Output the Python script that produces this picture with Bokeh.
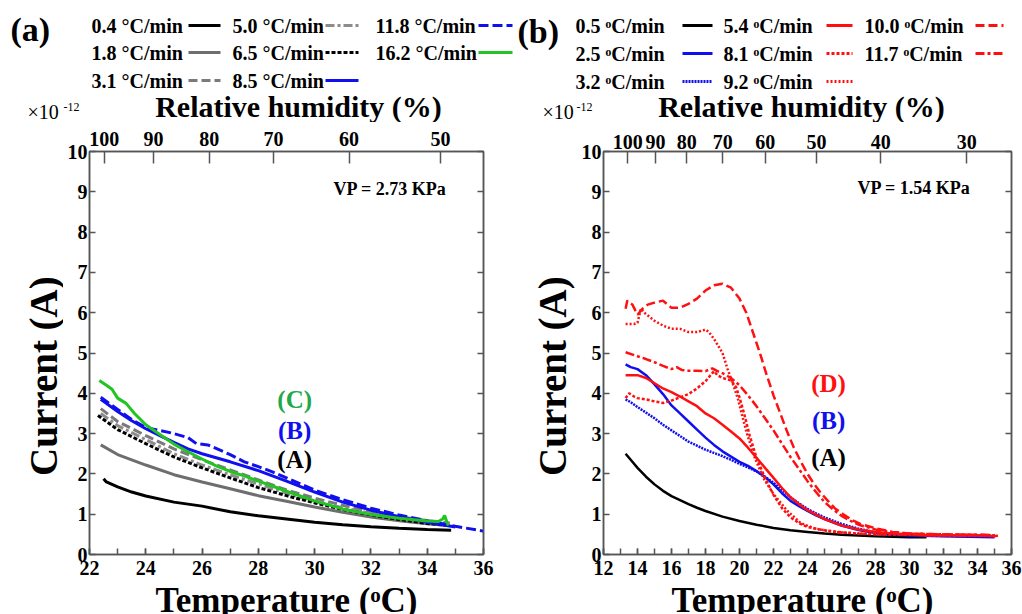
import math
from bokeh.plotting import figure
from bokeh.layouts import column, row
from bokeh.models import Range1d, LinearAxis, FixedTicker, SingleIntervalTicker
from bokeh.core.properties import value
from bokeh.embed import file_html
from bokeh.resources import INLINE

FONT = "Liberation Serif"

# ---------------- panel (a) data ----------------
a_rates = ["0.4", "1.8", "3.1", "5.0", "6.5", "8.5", "11.8", "16.2"]
a_colors = ["#000000", "#6e6e6e", "#7a7a7a", "#8c8c8c", "#000000", "#1010ee", "#1010ee", "#22c422"]
a_dashes = ["solid", "solid", "9 4", "9 3 3 3", "4 2", "solid", "10 4", "solid"]

a04_x = [22.5, 22.6, 23.0, 23.5, 24, 25, 26, 27, 28, 29, 30, 31, 32, 33, 34, 34.85]
a04_y = [1.88, 1.80, 1.68, 1.55, 1.45, 1.30, 1.20, 1.06, 0.96, 0.88, 0.80, 0.74, 0.69, 0.65, 0.62, 0.60]
a18_x = [22.4, 23, 24, 25, 26, 27, 28, 29, 30, 31, 32, 33, 34, 34.8]
a18_y = [2.72, 2.48, 2.22, 1.98, 1.80, 1.63, 1.46, 1.32, 1.18, 1.05, 0.93, 0.84, 0.76, 0.72]
a31_x = [22.4, 23, 24, 25, 26, 27, 28, 29, 30, 31, 32, 33, 34, 34.8]
a31_y = [3.62, 3.30, 2.95, 2.62, 2.35, 2.10, 1.85, 1.60, 1.40, 1.22, 1.06, 0.94, 0.84, 0.78]
a50_x = [22.4, 23, 24, 25, 26, 27, 28, 29, 30, 31, 32, 33, 34, 34.8]
a50_y = [3.50, 3.20, 2.85, 2.50, 2.22, 1.98, 1.75, 1.52, 1.32, 1.16, 1.02, 0.90, 0.80, 0.75]
a65_x = [22.3, 23, 24, 25, 26, 27, 28, 29, 30, 31, 32, 33, 34, 34.8]
a65_y = [3.45, 3.10, 2.75, 2.42, 2.15, 1.90, 1.66, 1.46, 1.28, 1.12, 0.98, 0.87, 0.77, 0.72]
a85_x = [22.4, 23, 23.5, 24, 24.5, 25, 25.5, 26, 26.5, 27, 28, 29, 30, 31, 32, 33, 34, 35]
a85_y = [3.85, 3.55, 3.32, 3.12, 2.95, 2.78, 2.62, 2.50, 2.40, 2.30, 2.08, 1.82, 1.55, 1.30, 1.10, 0.94, 0.80, 0.68]
a118_x = [22.4, 23, 23.5, 24, 24.5, 25, 25.5, 25.8, 26.2, 26.6, 27, 27.5, 28, 28.5, 29, 29.5, 30, 31, 32, 33, 34, 35, 36]
a118_y = [3.90, 3.60, 3.35, 3.15, 3.08, 3.00, 2.90, 2.75, 2.72, 2.60, 2.48, 2.30, 2.18, 2.05, 1.90, 1.75, 1.60, 1.36, 1.15, 0.98, 0.84, 0.70, 0.58]
a162_x = [22.35, 22.6, 22.8, 23, 23.3, 23.6, 24, 24.5, 25, 25.5, 26, 26.5, 27, 27.5, 28, 28.5, 29, 30, 31, 32, 33, 34, 34.4, 34.55, 34.62, 34.7, 34.75]
a162_y = [4.32, 4.20, 4.10, 3.88, 3.75, 3.50, 3.22, 2.98, 2.74, 2.55, 2.37, 2.20, 2.06, 1.95, 1.82, 1.70, 1.57, 1.33, 1.13, 0.99, 0.90, 0.83, 0.82, 0.88, 0.97, 0.80, 0.72]
a_series = [(a04_x, a04_y), (a18_x, a18_y), (a31_x, a31_y), (a50_x, a50_y),
            (a65_x, a65_y), (a85_x, a85_y), (a118_x, a118_y), (a162_x, a162_y)]
a_vp = 2.73
a_rh = [100, 90, 80, 70, 60, 50]

# ---------------- panel (b) data ----------------
b_rates = ["0.5", "2.5", "3.2", "5.4", "8.1", "9.2", "10.0", "11.7"]
b_colors = ["#000000", "#1010ee", "#1010ee", "#ff1010", "#ff1010", "#ff1010", "#ff1010", "#ff1010"]
b_dashes = ["solid", "solid", "2 1", "solid", "3 2", "2 2", "9 4", "9 3 3 3"]

b05_x = [13.3, 13.6, 14, 14.5, 15, 15.5, 16, 16.5, 17, 17.5, 18, 19, 20, 21, 22, 23, 24, 25, 26, 27, 28, 29, 30, 31]
b05_y = [2.50, 2.35, 2.15, 1.93, 1.74, 1.58, 1.45, 1.35, 1.25, 1.16, 1.08, 0.94, 0.83, 0.74, 0.66, 0.60, 0.56, 0.52, 0.49, 0.47, 0.45, 0.44, 0.43, 0.43]
b25_x = [13.3, 13.6, 14, 14.5, 15, 15.5, 16, 16.5, 17, 17.5, 18, 18.5, 19, 19.5, 20, 20.5, 21, 21.5, 22, 22.5, 23, 23.5, 24, 24.5, 25, 26, 27, 28, 29, 30, 32, 35]
b25_y = [4.72, 4.65, 4.60, 4.45, 4.22, 3.98, 3.70, 3.50, 3.30, 3.10, 2.90, 2.72, 2.56, 2.43, 2.30, 2.20, 2.07, 1.92, 1.74, 1.52, 1.33, 1.20, 1.08, 0.97, 0.88, 0.72, 0.61, 0.53, 0.49, 0.47, 0.45, 0.43]
b32_x = [13.3, 13.6, 14, 14.5, 15, 15.5, 16, 16.5, 17, 17.5, 18, 18.5, 19, 19.5, 20, 20.5, 21, 21.5, 22, 22.5, 23, 23.5, 24, 24.5, 25, 26, 27, 28, 29, 30, 32, 35]
b32_y = [3.85, 3.78, 3.66, 3.52, 3.38, 3.22, 3.08, 2.94, 2.80, 2.70, 2.60, 2.52, 2.44, 2.35, 2.25, 2.16, 2.06, 1.93, 1.78, 1.60, 1.42, 1.27, 1.13, 1.02, 0.92, 0.76, 0.64, 0.55, 0.50, 0.48, 0.46, 0.44]
b54_x = [13.3, 14, 14.5, 15, 15.5, 16, 16.5, 17, 17.5, 18, 18.5, 19, 19.5, 20, 20.5, 21, 21.5, 22, 22.5, 23, 23.5, 24, 25, 26, 27, 28, 29, 30, 31, 32, 33, 34, 34.5, 35, 35.2]
b54_y = [4.45, 4.45, 4.38, 4.25, 4.12, 4.03, 3.92, 3.80, 3.68, 3.50, 3.38, 3.22, 3.05, 2.88, 2.65, 2.40, 2.15, 1.90, 1.65, 1.42, 1.25, 1.10, 0.88, 0.72, 0.62, 0.56, 0.52, 0.50, 0.48, 0.48, 0.47, 0.48, 0.47, 0.45, 0.47]
b81_x = [13.3, 13.5, 13.8, 14, 14.5, 15, 15.5, 16, 16.5, 17, 17.5, 18, 18.3, 18.5, 18.7, 19, 19.5, 19.8, 20, 20.3, 20.6, 21, 21.5, 22, 22.5, 23, 23.5, 24, 25, 26, 27, 28, 30, 32, 35]
b81_y = [3.88, 4.00, 3.92, 3.88, 3.85, 3.80, 3.76, 3.82, 3.90, 3.98, 4.12, 4.30, 4.45, 4.55, 4.45, 4.38, 4.32, 4.15, 3.90, 3.45, 2.95, 2.40, 1.90, 1.48, 1.15, 0.92, 0.78, 0.68, 0.60, 0.55, 0.52, 0.50, 0.49, 0.47, 0.46]
b92_x = [13.3, 13.8, 14.0, 14.2, 14.4, 14.7, 15, 15.5, 16, 16.5, 17, 17.5, 18, 18.2, 18.5, 19, 19.3, 19.6, 19.9, 20.4, 20.9, 21.4, 22, 22.8, 23.6, 24.4, 25.5, 27, 29, 31, 33, 35]
b92_y = [5.72, 5.72, 5.75, 6.10, 6.00, 5.90, 5.80, 5.68, 5.60, 5.60, 5.52, 5.52, 5.58, 5.52, 5.35, 5.00, 4.60, 4.25, 3.87, 3.05, 2.40, 1.90, 1.50, 1.09, 0.78, 0.65, 0.56, 0.52, 0.50, 0.48, 0.48, 0.47]
b100_x = [13.3, 13.4, 13.7, 14, 14.3, 14.6, 15, 15.5, 16, 16.5, 17, 17.5, 18, 18.5, 19, 19.5, 20, 20.4, 20.8, 21.2, 21.6, 22, 22.4, 22.8, 23.2, 23.6, 24, 24.4, 24.8, 25.2, 25.6, 26.1, 26.6, 27.1, 28.1, 29, 30, 32, 34, 35]
b100_y = [6.10, 6.30, 6.20, 5.95, 6.10, 6.20, 6.25, 6.30, 6.12, 6.12, 6.22, 6.35, 6.55, 6.68, 6.72, 6.62, 6.35, 6.00, 5.50, 5.00, 4.45, 3.95, 3.50, 3.05, 2.65, 2.31, 2.00, 1.74, 1.52, 1.33, 1.15, 1.00, 0.86, 0.76, 0.64, 0.56, 0.52, 0.50, 0.49, 0.48]
b117_x = [13.3, 14, 14.5, 15, 15.5, 16, 16.3, 16.6, 17, 17.5, 18, 18.4, 18.7, 19, 19.5, 20, 20.5, 21, 21.5, 22, 22.5, 23, 23.5, 24, 24.5, 25, 25.5, 26, 26.5, 27, 28, 29, 30, 32, 34, 35.2]
b117_y = [5.02, 4.92, 4.85, 4.77, 4.68, 4.60, 4.65, 4.58, 4.56, 4.56, 4.55, 4.62, 4.55, 4.50, 4.38, 4.20, 3.95, 3.68, 3.38, 3.08, 2.75, 2.42, 2.12, 1.82, 1.55, 1.30, 1.12, 0.96, 0.84, 0.74, 0.62, 0.55, 0.52, 0.50, 0.49, 0.47]
b_series = [(b05_x, b05_y), (b25_x, b25_y), (b32_x, b32_y), (b54_x, b54_y),
            (b81_x, b81_y), (b92_x, b92_y), (b100_x, b100_y), (b117_x, b117_y)]
b_vp = 1.54
b_rh = [100, 90, 80, 70, 60, 50, 40, 30]

TOP_H = 122      # strip above the panels (legends, titles)
MID_H = 463      # panels
BOT_H = 29       # strip below the panels (x titles, cut at the window edge)


def rh_to_temp(vp, rh):
    # temperature at which the saturation vapour pressure equals vp/(rh/100) (Magnus)
    es = vp / (rh / 100.0)
    g = math.log(es / 0.6108)
    return 237.3 * g / (17.27 - g)


def style_axis(ax):
    ax.axis_line_color = "#555555"
    ax.axis_line_width = 1.5
    ax.major_tick_line_color = "#555555"
    ax.major_tick_line_width = 1.5
    ax.minor_tick_line_color = "#555555"
    ax.minor_tick_line_width = 1.5
    ax.major_tick_in = 6
    ax.major_tick_out = 0
    ax.minor_tick_in = 0
    ax.minor_tick_out = 0
    ax.major_label_text_font = FONT
    ax.major_label_text_font_style = "bold"
    ax.major_label_text_font_size = "20px"
    ax.major_label_text_color = "black"


def blank(width, height):
    f = figure(width=width, height=height, x_range=Range1d(0, width), y_range=Range1d(height, 0),
               output_backend="svg", toolbar_location=None, min_border=0,
               x_axis_location=None, y_axis_location=None)
    f.xgrid.visible = False
    f.ygrid.visible = False
    f.outline_line_color = None
    return f


def txt(f, x, y, s, size, bold=True, align="left", color="black", angle=0.0):
    f.text(x=[x], y=[y], text=[s], text_font=value(FONT), text_font_style="bold" if bold else "normal",
           text_font_size=size, text_align=align, text_baseline="middle", text_color=color, angle=angle)


def panel(xmin, xmax, width, bl, bt, br, bb, series, colors, dashes, vp, rhs, lw, top_standoff):
    p = figure(width=width, height=MID_H, x_range=Range1d(xmin, xmax), y_range=Range1d(0, 10),
               output_backend="svg", toolbar_location=None,
               min_border_left=bl, min_border_top=bt, min_border_right=br, min_border_bottom=bb)
    p.xgrid.visible = False
    p.ygrid.visible = False
    p.outline_line_color = "#555555"
    p.outline_line_width = 1.5

    xa = p.xaxis[0]
    xa.ticker = SingleIntervalTicker(interval=2, num_minor_ticks=2)
    style_axis(xa)
    xa.minor_tick_in = 6
    xa.major_label_standoff = 6
    ya = p.yaxis[0]
    ya.ticker = SingleIntervalTicker(interval=1, num_minor_ticks=0)
    style_axis(ya)
    ya.major_label_standoff = 2

    ra = LinearAxis(ticker=SingleIntervalTicker(interval=1, num_minor_ticks=0),
                    major_label_overrides={i: "" for i in range(11)})
    style_axis(ra)
    ra.major_label_standoff = 0
    p.add_layout(ra, "right")

    tpos = [rh_to_temp(vp, r) for r in rhs]
    ta = LinearAxis(ticker=FixedTicker(ticks=tpos),
                    major_label_overrides={t: str(r) for t, r in zip(tpos, rhs)})
    style_axis(ta)
    ta.major_tick_in = 12
    ta.major_label_standoff = top_standoff
    p.add_layout(ta, "above")

    for (xs, ys), c, d in zip(series, colors, dashes):
        p.line(xs, ys, line_color=c, line_width=lw, line_dash=d)
    return p


# ---------------- panels ----------------
pa = panel(22, 36, 432, 26, 29, 12, 30, a_series, a_colors, a_dashes, a_vp, a_rh, 3, 6)
pa.text(x=[30.67], y=[9.06], text=["VP = %.2f KPa" % a_vp], text_font=value(FONT),
        text_font_style="bold", text_font_size="18px", text_baseline="middle", text_align="left")
pa.text(x=[29.29, 29.29, 29.29], y=[3.84, 3.07, 2.35], text=["(C)", "(B)", "(A)"],
        text_color=["#22a84a", "#1010ee", "#000000"], text_font=value(FONT),
        text_font_style="bold", text_font_size="25px", text_baseline="middle", text_align="center")

pb = panel(12, 36, 445, 26, 25, 11, 31, b_series, b_colors, b_dashes, b_vp, b_rh, 2.5, 3)
pb.text(x=[26.94], y=[9.09], text=["VP = %.2f KPa" % b_vp], text_font=value(FONT),
        text_font_style="bold", text_font_size="18px", text_baseline="middle", text_align="left")
pb.text(x=[25.24, 25.24, 25.24], y=[4.25, 3.32, 2.41], text=["(D)", "(B)", "(A)"],
        text_color=["#ff1010", "#1010ee", "#000000"], text_font=value(FONT),
        text_font_style="bold", text_font_size="25px", text_baseline="middle", text_align="center")

# ---------------- y titles (strips left of each panel) ----------------
la = blank(63, MID_H)
txt(la, 43, 258, "Current (A)", "39px", align="center", angle=math.pi / 2)
lb = blank(82, MID_H)
txt(lb, 57, 258, "Current (A)", "39px", align="center", angle=math.pi / 2)

# ---------------- top strip: legends, panel letters, top titles ----------------
top = blank(1022, TOP_H)


def legend_block(fig, rates, colors, dashes, unit, text_x, line_x, rows_y):
    for i, (r, c, d) in enumerate(zip(rates, colors, dashes)):
        col, rw = divmod(i, 3)
        txt(fig, text_x[col], rows_y[rw], "%s %sC/min" % (r, unit), "20px")
        fig.line(line_x[col], [rows_y[rw], rows_y[rw]], line_color=c, line_width=3, line_dash=d)


legend_block(top, a_rates, a_colors, a_dashes, "\u00b0", [91, 232, 375],
             [[188, 220], [325, 358], [478, 512]], [25, 52, 80])
legend_block(top, b_rates, b_colors, b_dashes, "\u1d52", [575, 723, 864],
             [[682, 712], [826, 852], [975, 1003]], [25, 53, 81])
txt(top, 10, 29, "(a)", "34px")
txt(top, 517, 31, "(b)", "34px")
txt(top, 298, 106, "Relative humidity (%)", "30px", align="center")
txt(top, 801, 106, "Relative humidity (%)", "30px", align="center")
txt(top, 27, 111, "\u00d710", "20px", bold=False)
txt(top, 63, 106, "-12", "12px", bold=False)
txt(top, 542, 111, "\u00d710", "20px", bold=False)
txt(top, 576, 106, "-12", "12px", bold=False)

# ---------------- bottom strip: x titles ----------------
bot = blank(1022, BOT_H)
txt(bot, 286, 15, "Temperature (\u1d52C)", "35px", align="center")
txt(bot, 802, 15, "Temperature (\u1d52C)", "35px", align="center")

layout = column(top, row(la, pa, lb, pb), bot)
open("out.html", "w").write(file_html(layout, INLINE))
